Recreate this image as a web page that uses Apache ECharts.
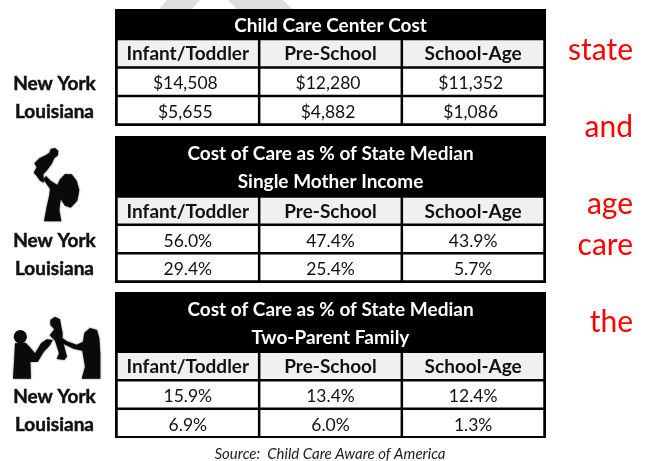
<!DOCTYPE html>
<html>
<head>
<meta charset="utf-8">
<style>html,body{margin:0;padding:0;background:#fff}#main{width:645px;height:461px}</style>
<script src="https://cdn.jsdelivr.net/npm/echarts@6/dist/echarts.min.js"></script>
</head>
<body>
<div id="main"></div>
<script>
var ageGroups = ['Infant/Toddler', 'Pre-School', 'School-Age']
var states = ['New York', 'Louisiana']
var centerCostNY = [14508, 12280, 11352]
var centerCostLA = [5655, 4882, 1086]
var singleMotherNY = [56.0, 47.4, 43.9]
var singleMotherLA = [29.4, 25.4, 5.7]
var twoParentNY = [15.9, 13.4, 12.4]
var twoParentLA = [6.9, 6.0, 1.3]
var tableTitles = [
  'Child Care Center Cost',
  'Cost of Care as % of State Median\nSingle Mother Income',
  'Cost of Care as % of State Median\nTwo-Parent Family'
]
var sourceNote = 'Source:  Child Care Aware of America'
var redWords = ['state', 'and', 'age', 'care', 'the']

var FONT = 'Lato, "Open Sans", sans-serif'
var money = function (v) { return '$' + v.toLocaleString('en-US') }
var pct = function (v) { return v.toFixed(1) + '%' }

// each table is one grid: x = age group, y = header row + states
var tables = [
  { top: 39, height: 85.5, black: [9, 117], titleTop: 12, ny: centerCostNY, la: centerCostLA, fmt: money, dx: -2.5 },
  { top: 196.5, height: 85, black: [136, 147], titleTop: 140, ny: singleMotherNY, la: singleMotherLA, fmt: pct, dx: 0 },
  { top: 351.75, height: 85.5, black: [292, 146], titleTop: 296, ny: twoParentNY, la: twoParentLA, fmt: pct, dx: 0 }
]

function cellRows(t) {
  var rows = []
  ageGroups.forEach(function (name, i) {
    rows.push([i, 0, name, 0])
    rows.push([i, 1, t.fmt(t.ny[i]), t.dx])
    rows.push([i, 2, t.fmt(t.la[i]), t.dx])
  })
  return rows
}

function renderCell(params, api) {
  var p = api.coord([api.value(0), api.value(1)])
  var s = api.size([1, 1])
  var header = api.value(1) === 0
  return {
    type: 'group',
    children: [
      {
        type: 'rect',
        shape: { x: p[0] - s[0] / 2 + 1.25, y: p[1] - s[1] / 2 + 1.25, width: s[0] - 2.5, height: s[1] - 2.5 },
        style: { fill: header ? '#f0f0f0' : '#fff' }
      },
      {
        type: 'text',
        x: p[0] + api.value(3),
        y: p[1] + (header ? 1 : 2),
        style: {
          text: api.value(2),
          fill: '#111',
          align: 'center',
          verticalAlign: 'middle',
          font: (header ? 'bold 19px ' : '17.5px ') + FONT
        }
      }
    ]
  }
}

var grids = [], xAxes = [], yAxes = [], series = [], titles = []
tables.forEach(function (t, i) {
  grids.push({ left: 116.5, width: 428, top: t.top, height: t.height })
  xAxes.push({ type: 'category', gridIndex: i, data: ageGroups, show: false })
  yAxes.push({
    type: 'category',
    gridIndex: i,
    inverse: true,
    data: [''].concat(states),
    axisLine: { show: false },
    axisTick: { show: false },
    axisLabel: {
      color: '#111',
      fontFamily: FONT,
      fontWeight: 'bold',
      fontSize: 19,
      textBorderColor: '#111',
      textBorderWidth: 0.5,
      align: 'center',
      verticalAlign: 'top',
      lineHeight: 4,
      margin: 62
    }
  })
  series.push({
    type: 'custom',
    coordinateSystem: 'cartesian2d',
    xAxisIndex: i,
    yAxisIndex: i,
    encode: { x: 0, y: 1 },
    data: cellRows(t),
    renderItem: renderCell,
    z: 3,
    silent: true
  })
  titles.push({
    text: tableTitles[i],
    left: 330.5,
    top: t.titleTop,
    textAlign: 'center',
    padding: 0,
    textStyle: { color: '#fff', fontFamily: FONT, fontWeight: 'bold', fontSize: 19, lineHeight: 28 }
  })
})
titles.push({
  text: sourceNote,
  left: 330,
  top: 447,
  textAlign: 'center',
  padding: 0,
  textStyle: { color: '#222', fontFamily: FONT, fontStyle: 'italic', fontWeight: 'normal', fontSize: 15 }
})

var graphics = []
// faint watermark peeking out above the first table
graphics.push({ type: 'polygon', z: -2, shape: { points: [[159, 9], [167, 0], [200, 0], [192, 9]] }, style: { fill: '#dedede' } })
graphics.push({ type: 'polygon', z: -2, shape: { points: [[228, 0], [283, 0], [292, 9], [237, 9]] }, style: { fill: '#dedede' } })
tables.forEach(function (t) {
  graphics.push({ type: 'rect', z: 0, shape: { x: 115, y: t.black[0], width: 431, height: t.black[1] }, style: { fill: '#000' } })
})

// silhouettes
function silhouette(x, y, points) {
  return {
    type: 'polygon',
    x: x,
    y: y,
    scaleX: 1 / 3,
    scaleY: 1 / 3,
    shape: { points: points },
    style: { fill: '#0a0a0a', shadowBlur: 2, shadowColor: 'rgba(0,0,0,0.6)' }
  }
}
graphics.push(silhouette(20, 140, [[92, 27], [105, 24], [115, 32], [114, 46], [103, 55], [95, 72], [80, 92], [70, 103], [72, 128], [60, 122], [50, 108], [41, 98], [50, 82], [43, 70], [58, 55], [78, 45], [88, 38]]))
graphics.push(silhouette(20, 140, [[78, 108], [92, 122], [112, 135], [120, 118], [135, 102], [155, 103], [170, 122], [178, 150], [172, 182], [152, 203], [135, 197], [122, 178], [118, 210], [124, 244], [72, 244], [80, 200], [88, 165], [90, 147], [78, 130], [70, 118]]))
graphics.push({ type: 'circle', x: 5, y: 310, scaleX: 1 / 3, scaleY: 1 / 3, shape: { cx: 46, cy: 80, r: 20 }, style: { fill: '#0a0a0a' } })
graphics.push(silhouette(5, 310, [[30, 100], [62, 98], [75, 112], [90, 130], [108, 100], [125, 88], [143, 90], [135, 106], [116, 126], [98, 156], [76, 156], [78, 206], [24, 206], [28, 140]]))
graphics.push(silhouette(5, 310, [[136, 30], [150, 20], [165, 28], [169, 50], [173, 70], [172, 84], [186, 94], [215, 104], [234, 95], [238, 68], [255, 54], [276, 60], [283, 85], [286, 130], [286, 206], [230, 206], [240, 170], [232, 122], [205, 116], [176, 102], [186, 140], [178, 150], [155, 147], [162, 130], [150, 92], [134, 76], [148, 58], [136, 45]]))

var redTops = [35, 112, 189, 230, 307]
redWords.forEach(function (w, i) {
  graphics.push({
    type: 'text',
    x: 633,
    y: redTops[i],
    style: { text: w, fill: '#ff0000', align: 'right', font: '30px ' + FONT }
  })
})

var chart = echarts.init(document.getElementById('main'))
chart.setOption({
  animation: false,
  backgroundColor: '#fff',
  title: titles,
  grid: grids,
  xAxis: xAxes,
  yAxis: yAxes,
  graphic: graphics,
  series: series
})
</script>
</body>
</html>
